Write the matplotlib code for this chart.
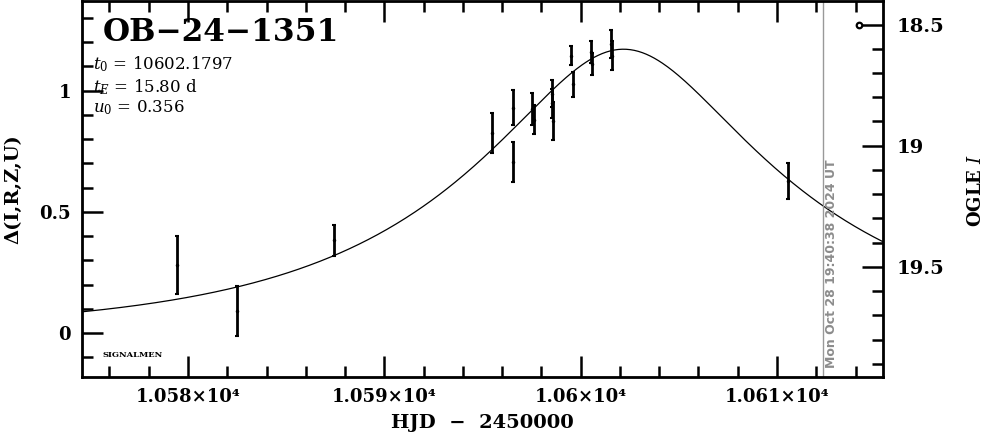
import numpy as np
import matplotlib
matplotlib.use("Agg")
import matplotlib.pyplot as plt
from matplotlib.ticker import FixedLocator, MultipleLocator, NullFormatter

plt.rcParams["font.family"] = "DejaVu Serif"
plt.rcParams["mathtext.fontset"] = "dejavuserif"

# event fit parameters (as printed on the chart)
event_name = "OB\u221224\u22121351"
t0 = 10602.1797
tE = 15.80
u0 = 0.356

# photometry: HJD-2450000, delta mag, error
hjd = [10579.45, 10582.48, 10587.45, 10595.49, 10596.54, 10596.54,
       10597.52, 10597.60, 10598.52, 10598.55, 10598.57, 10599.49,
       10599.61, 10600.54, 10600.56, 10601.56, 10601.58, 10610.54]
dmag = [0.281, 0.093, 0.384, 0.827, 0.930, 0.706,
        0.925, 0.880, 0.988, 0.949, 0.875, 1.145,
        1.026, 1.159, 1.111, 1.193, 1.145, 0.627]
derr = [0.119, 0.103, 0.064, 0.082, 0.073, 0.084,
        0.066, 0.060, 0.055, 0.060, 0.080, 0.040,
        0.050, 0.045, 0.045, 0.057, 0.060, 0.075]

i_base = 19.773
x_ticks = [10580, 10590, 10600, 10610]
x_labels = ["1.058\u00d710\u2074", "1.059\u00d710\u2074", "1.06\u00d710\u2074", "1.061\u00d710\u2074"]
y_ticks = [0, 0.5, 1]
y_labels = ["0", "0.5", "1"]
mag_ticks = [18.5, 19, 19.5]
mag_labels = ["18.5", "19", "19.5"]
now_hjd = 10612.32
now_text = "Mon Oct 28 19:40:38 2024 UT"

xlim = (10574.6, 10615.4)
ylim = (-0.179, 1.370)


def paczynski(t):
    u = np.sqrt(u0 ** 2 + ((t - t0) / tE) ** 2)
    amp = (u ** 2 + 2) / (u * np.sqrt(u ** 2 + 4))
    return 2.5 * np.log10(amp)


fig = plt.figure(figsize=(9.86, 4.34), dpi=100)
ax = fig.add_axes([82 / 986, 1 - 376.5 / 434, 801 / 986, 375.5 / 434])

tt = np.linspace(xlim[0], xlim[1], 600)
ax.plot(tt, paczynski(tt), color="black", lw=0.9)
ax.errorbar(hjd, dmag, yerr=derr, fmt=".", color="black", ms=3,
            elinewidth=2, capsize=1.2, capthick=1.5)

ax.axvline(now_hjd, color="#999999", lw=1)
ax.text(now_hjd + 0.15, -0.145, now_text, rotation=90, color="#8c8c8c",
        fontsize=9, fontweight="bold", family="DejaVu Sans",
        ha="left", va="bottom")

ax.set_xlim(*xlim)
ax.set_ylim(*ylim)

ax.xaxis.set_major_locator(FixedLocator(x_ticks))
ax.set_xticklabels(x_labels)
ax.xaxis.set_minor_locator(MultipleLocator(2))
ax.yaxis.set_major_locator(FixedLocator(y_ticks))
ax.set_yticklabels(y_labels)
ax.yaxis.set_minor_locator(MultipleLocator(0.1))

ax.tick_params(which="both", direction="in", top=True, right=False, width=1.8)
ax.tick_params(which="major", length=15, labelsize=13, pad=8)
ax.tick_params(which="minor", length=8)
for lab in ax.get_xticklabels() + ax.get_yticklabels():
    lab.set_fontweight("bold")
for s in ax.spines.values():
    s.set_linewidth(2)

ax.set_xlabel("HJD  \u2212  2450000", fontsize=14, fontweight="bold", labelpad=6)
ax.set_ylabel("\u0394(I,R,Z,U)", fontsize=14, fontweight="bold", labelpad=12)

ax2 = ax.twinx()
ax2.set_ylim(i_base - ylim[0], i_base - ylim[1])
ax2.yaxis.set_major_locator(FixedLocator(mag_ticks))
ax2.set_yticklabels(mag_labels)
ax2.yaxis.set_minor_locator(MultipleLocator(0.1))
ax2.yaxis.set_minor_formatter(NullFormatter())
ax2.tick_params(which="both", direction="in", width=1.8)
ax2.tick_params(which="major", length=15, labelsize=14, pad=10)
ax2.tick_params(which="minor", length=8)
for lab in ax2.get_yticklabels():
    lab.set_fontweight("bold")
ax2.plot([10614.2], [18.5], marker="o", ms=4, mfc="none", mec="black", mew=1.6)

fig.text(976 / 986, 1 - 190 / 434, "OGLE $\\mathbf{\\mathit{I}}$", fontsize=13,
         fontweight="bold", rotation=90, ha="center", va="center")

ax.text(0.026, 0.958, event_name, transform=ax.transAxes, fontsize=22.5,
        fontweight="bold", ha="left", va="top")
ax.text(0.014, 0.832, "$t_0$ = 10602.1797", transform=ax.transAxes,
        fontsize=12, ha="left", va="center")
ax.text(0.014, 0.771, "$t_E$ = 15.80 d", transform=ax.transAxes,
        fontsize=12, ha="left", va="center")
ax.text(0.014, 0.715, "$u_0$ = 0.356", transform=ax.transAxes,
        fontsize=12, ha="left", va="center")
ax.text(0.026, 0.058, "SIGNALMEN", transform=ax.transAxes, fontsize=6,
        fontweight="bold", ha="left", va="center")

fig.savefig("out.png", dpi=100)
